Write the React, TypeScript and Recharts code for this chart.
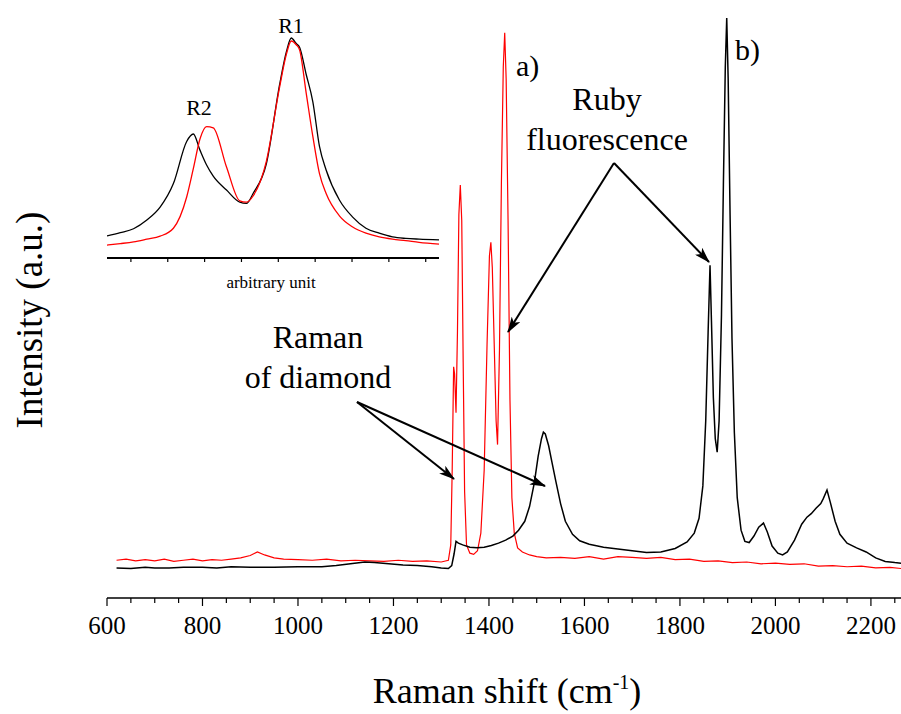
import { LineChart, Line, XAxis, YAxis } from "recharts";

// main spectra: Raman shift (cm-1) and intensity (a.u., 0-1000 frame)
const blackShift = [
  620, 650, 680, 700, 730, 760, 800, 830, 860, 900, 950, 1000, 1050, 1080, 1110, 1140, 1160, 1190, 1220, 1250,
  1280, 1300, 1315, 1322, 1327, 1331, 1336, 1345, 1360, 1375, 1390, 1405, 1420, 1435, 1450, 1462, 1475, 1485,
  1495, 1503, 1510, 1514, 1518, 1525, 1532, 1540, 1550, 1560, 1575, 1590, 1610, 1640, 1670, 1700, 1730, 1760,
  1790, 1815, 1830, 1840, 1848, 1854, 1859, 1863, 1866, 1870, 1874, 1878, 1882, 1887, 1891, 1895, 1898, 1901,
  1905, 1909, 1914, 1920, 1928, 1936, 1945, 1955, 1965, 1975, 1983, 1993, 2005, 2015, 2025, 2040, 2055, 2066,
  2075, 2085, 2095, 2100, 2108, 2115, 2125, 2135, 2150, 2170, 2190, 2210, 2230, 2250, 2263,
];
const blackIntensity = [
  51, 50, 52, 51, 51, 52, 52, 51, 53, 52, 52, 53, 53, 55, 58, 61, 60, 58, 56, 55,
  53, 51, 50, 55, 75, 96, 93, 90, 86, 85, 86, 89, 93, 98, 105, 115, 130, 155,
  195, 240, 270, 281, 278, 258, 230, 198, 160, 130, 108, 97, 91, 86, 83, 80, 77, 78,
  84, 95, 110, 135, 190, 300, 450, 564, 470, 340, 270, 247, 300, 480, 700, 900, 983, 880,
  650, 440, 280, 170, 115, 96, 94, 105, 120, 127, 112, 88, 76, 73, 78, 98, 125, 137,
  143, 152, 160, 168, 183, 162, 130, 108, 93, 85, 78, 68, 62, 60, 59,
];
const redShift = [
  620, 640, 660, 680, 700, 720, 740, 760, 780, 800, 820, 840, 860, 880, 900, 915, 930, 950, 970, 1000,
  1030, 1060, 1090, 1120, 1150, 1180, 1210, 1240, 1270, 1300, 1315, 1320, 1323, 1326, 1328, 1331, 1334, 1337,
  1340, 1343, 1346, 1349, 1353, 1360, 1368, 1376, 1383, 1390, 1396, 1401, 1404, 1407, 1411, 1415, 1418, 1422,
  1426, 1430, 1433, 1436, 1440, 1444, 1448, 1453, 1460, 1470, 1485, 1500, 1520, 1550, 1580, 1610, 1640, 1670,
  1700, 1730, 1760, 1790, 1820, 1850, 1880, 1910, 1940, 1970, 2000, 2030, 2060, 2090, 2120, 2150, 2180, 2210,
  2240, 2263,
];
const redIntensity = [
  64, 66, 63, 65, 63, 66, 62, 64, 66, 63, 65, 64, 66, 68, 72, 78, 73, 68, 66, 65,
  64, 66, 63, 64, 63, 62, 64, 62, 63, 61, 64, 90, 217, 392, 380, 314, 450, 650,
  700, 640, 400, 180, 90, 76, 74, 80, 110, 217, 430, 580, 603, 560, 430, 300, 260, 420,
  700, 900, 958, 880, 640, 336, 170, 110, 85, 78, 73, 70, 68, 69, 67, 70, 66, 70,
  69, 67, 69, 65, 66, 62, 63, 60, 61, 58, 59, 57, 58, 54, 55, 53, 54, 51,
  52, 50,
];

// inset: R1/R2 lines, arbitrary unit (0-100)
const insetPos = [0, 4, 8, 12, 16, 20, 24, 26, 28, 30, 32, 36, 40, 42, 44, 48, 52, 54, 55.5, 57, 58, 60, 62, 64, 66, 70, 74, 78, 82, 86, 90, 94, 100];
const insetBlack = [8.9, 10.2, 11.8, 15.3, 20.5, 30, 47, 50, 43.5, 37.5, 33, 27.4, 22.5, 22, 26, 38, 70, 83, 88.7, 86.5, 85, 74, 63, 45, 35.5, 23.4, 16.5, 12, 10, 8.5, 7.9, 7.6, 7.3];
const insetRed = [5.2, 5.8, 6.5, 7.6, 8.8, 12, 24.6, 36, 48, 53, 52.5, 36.7, 23, 22.5, 25, 39, 69, 82, 87.5, 86, 84, 66.5, 49, 34, 26, 17, 12.5, 10, 8.5, 7.6, 7, 6.3, 5.6];

const shiftTicks = [
  600, 650, 700, 750, 800, 850, 900, 950, 1000, 1050, 1100, 1150, 1200, 1250, 1300, 1350, 1400, 1450,
  1500, 1550, 1600, 1650, 1700, 1750, 1800, 1850, 1900, 1950, 2000, 2050, 2100, 2150, 2200, 2250,
];
const shiftLabels = [600, 800, 1000, 1200, 1400, 1600, 1800, 2000, 2200];
const insetTicks = [7.2, 18.3, 29.4, 40.5, 51.6, 62.7, 73.8, 84.9, 96];

const toPoints = (xs: number[], ys: number[]) => xs.map((x, i) => ({ x, y: ys[i] }));

const blackData = toPoints(blackShift, blackIntensity);
const redData = toPoints(redShift, redIntensity);
const insetBlackData = toPoints(insetPos, insetBlack);
const insetRedData = toPoints(insetPos, insetRed);

function ShiftTick(props: any) {
  const { x, y, payload } = props;
  const major = shiftLabels.includes(payload.value);
  return (
    <g>
      <line x1={x} y1={y} x2={x} y2={y + (major ? 8 : 5)} stroke="#000" strokeWidth={1.2} />
      {major && (
        <text x={x} y={y + 36} textAnchor="middle" fontSize={25} fontFamily="Liberation Serif" fill="#000">
          {payload.value}
        </text>
      )}
    </g>
  );
}

function InsetTick(props: any) {
  const { x, y } = props;
  return <line x1={x} y1={y} x2={x} y2={y + 4} stroke="#000" strokeWidth={1.2} />;
}

export default function App() {
  return (
    <div style={{ position: "relative", width: 901, height: 714, background: "#fff" }}>
      <style>{`body{margin:0}`}</style>

      <LineChart width={901} height={714} margin={{ top: 8, right: 0, left: 107, bottom: 0 }}>
        <XAxis
          dataKey="x"
          type="number"
          domain={[600, 2263]}
          allowDataOverflow
          ticks={shiftTicks}
          interval={0}
          height={116}
          tickSize={0}
          tickMargin={0}
          tickLine={false}
          tick={<ShiftTick />}
          axisLine={{ stroke: "#000", strokeWidth: 1.5 }}
        />
        <XAxis
          xAxisId="top"
          orientation="top"
          type="number"
          domain={[600, 2263]}
          height={0}
          tick={false}
          tickLine={false}
          axisLine={{ stroke: "#000", strokeWidth: 1.5 }}
        />
        <YAxis
          type="number"
          domain={[0, 1000]}
          width={0}
          tick={false}
          tickLine={false}
          axisLine={{ stroke: "#000", strokeWidth: 1.5 }}
        />
        <Line data={redData} dataKey="y" type="linear" stroke="#ff0000" strokeWidth={1.2} dot={false} isAnimationActive={false} />
        <Line data={blackData} dataKey="y" type="linear" stroke="#000" strokeWidth={1.5} dot={false} isAnimationActive={false} />
      </LineChart>

      {/* inset */}
      <div style={{ position: "absolute", left: 107, top: 9, width: 333, height: 250, background: "#fff" }} />
      <div style={{ position: "absolute", left: 107, top: 10 }}>
        <LineChart width={333} height={282} margin={{ top: 0, right: 1, left: 0, bottom: 0 }}>
          <XAxis
            dataKey="x"
            type="number"
            domain={[0, 100]}
            ticks={insetTicks}
            interval={0}
            height={34}
            tickSize={0}
            tickMargin={0}
            tickLine={false}
            tick={<InsetTick />}
            axisLine={{ stroke: "#000", strokeWidth: 2 }}
          />
          <XAxis xAxisId="top" orientation="top" type="number" domain={[0, 100]} height={0} tick={false} tickLine={false} axisLine={{ stroke: "#000", strokeWidth: 2 }} />
          <YAxis type="number" domain={[0, 100]} width={0} tick={false} tickLine={false} axisLine={{ stroke: "#000", strokeWidth: 2 }} />
          <YAxis yAxisId="r" orientation="right" type="number" domain={[0, 100]} width={0} tick={false} tickLine={false} axisLine={{ stroke: "#000", strokeWidth: 2 }} />
          <Line data={insetBlackData} dataKey="y" type="monotone" stroke="#000" strokeWidth={1.3} dot={false} isAnimationActive={false} />
          <Line data={insetRedData} dataKey="y" type="monotone" stroke="#ff0000" strokeWidth={1.3} dot={false} isAnimationActive={false} />
        </LineChart>
      </div>

      {/* titles and annotations */}
      <svg width={901} height={714} style={{ position: "absolute", left: 0, top: 0, pointerEvents: "none" }}>
        <defs>
          <marker id="head" markerUnits="userSpaceOnUse" markerWidth={16} markerHeight={10} refX={15} refY={5} orient="auto">
            <path d="M0,0 L16,5 L0,10 L4,5 z" fill="#000" />
          </marker>
        </defs>
        <text x={291} y={33} textAnchor="middle" fontSize={22} fontFamily="Liberation Serif">R1</text>
        <text x={199} y={115} textAnchor="middle" fontSize={22} fontFamily="Liberation Serif">R2</text>
        <text x={271} y={288} textAnchor="middle" fontSize={17} fontFamily="Liberation Serif">arbitrary unit</text>

        <text x={516} y={76} fontSize={30} fontFamily="Liberation Serif">a)</text>
        <text x={735} y={60} fontSize={30} fontFamily="Liberation Serif">b)</text>

        <text x={607} y={110} textAnchor="middle" fontSize={32} fontFamily="Liberation Serif">Ruby</text>
        <text x={607} y={150} textAnchor="middle" fontSize={32} fontFamily="Liberation Serif">fluorescence</text>

        <text x={318} y={348} textAnchor="middle" fontSize={32} fontFamily="Liberation Serif">Raman</text>
        <text x={318} y={388} textAnchor="middle" fontSize={32} fontFamily="Liberation Serif">of diamond</text>

        <text x={507} y={703} textAnchor="middle" fontSize={36} fontFamily="Liberation Serif">
          Raman shift (cm<tspan fontSize={20} dy={-14}>-1</tspan><tspan dy={14}>)</tspan>
        </text>
        <text transform="translate(42,320) rotate(-90)" textAnchor="middle" fontSize={37} fontFamily="Liberation Serif">
          Intensity (a.u.)
        </text>

        <line x1={614} y1={163} x2={508} y2={332} stroke="#000" strokeWidth={2} markerEnd="url(#head)" />
        <line x1={614} y1={163} x2={709} y2={262} stroke="#000" strokeWidth={2} markerEnd="url(#head)" />
        <line x1={357} y1={402} x2={454} y2={479} stroke="#000" strokeWidth={2} markerEnd="url(#head)" />
        <line x1={357} y1={402} x2={545} y2={486} stroke="#000" strokeWidth={2} markerEnd="url(#head)" />
      </svg>
    </div>
  );
}
